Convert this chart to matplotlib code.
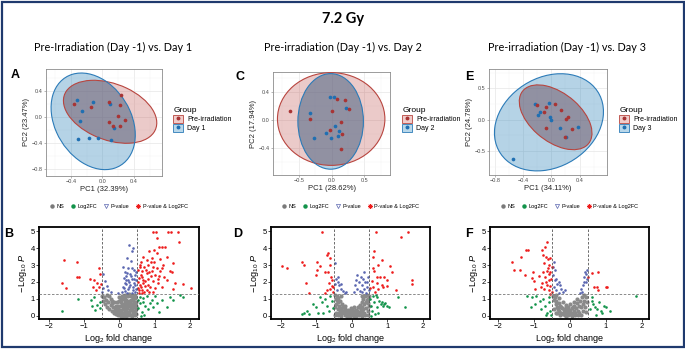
import numpy as np
import matplotlib
matplotlib.use('Agg')
import matplotlib.pyplot as plt
from matplotlib.patches import Ellipse, Rectangle, Patch
from matplotlib.lines import Line2D

plt.rcParams['font.family'] = ['Liberation Sans', 'DejaVu Sans']
plt.rcParams['mathtext.fontset'] = 'custom'
plt.rcParams['mathtext.rm'] = 'Liberation Sans'
plt.rcParams['mathtext.it'] = 'Liberation Sans:italic'

W, H = 685, 351

# ---- PCA scores (PC1, PC2) ----
a_pre = [(-0.358, 0.2), (-0.143, 0.149), (0.084, 0.231), (0.236, 0.338), (0.219, 0.179),
         (0.202, 0.01), (0.291, -0.046), (0.08, -0.077), (0.139, -0.133), (0.219, -0.138)]
a_day = [(-0.32, 0.256), (-0.114, 0.236), (-0.261, 0.097), (-0.291, -0.062), (0.101, 0.2),
         (0.147, -0.164), (-0.307, -0.344), (-0.168, -0.318), (-0.059, -0.318), (0.114, -0.349)]
c_pre = [(-0.633, 0.133), (-0.321, 0.009), (0.005, 0.123), (0.087, 0.294), (0.199, 0.284),
         (0.265, 0.156), (0.148, -0.024), (0.163, -0.199), (-0.02, -0.137), (0.138, -0.412)]
c_day = [(-0.327, 0.1), (-0.02, 0.322), (0.041, 0.318), (0.224, 0.166), (0.046, -0.081),
         (0.117, -0.156), (-0.077, -0.185), (0.092, -0.232), (-0.01, -0.261), (-0.27, -0.256)]
e_pre = [(-0.207, 0.239), (-0.075, 0.202), (-0.099, 0.117), (0.052, 0.255), (0.136, 0.154),
         (0.231, 0.043), (0.207, 0.005), (0.287, -0.154), (0.198, -0.271), (-0.075, -0.133)]
e_day = [(-0.24, 0.25), (-0.038, 0.271), (-0.165, 0.122), (-0.193, 0.069), (-0.024, 0.043),
         (-0.005, -0.011), (0.127, -0.128), (0.372, -0.122), (0.207, -0.282), (-0.546, -0.617)]

# 95% ellipses: (cx, cy, width, height, angle)
a_ell_pre = (0.097, 0.08, 1.28, 0.84, -30)
a_ell_day = (-0.118, -0.067, 1.54, 0.99, 110)
c_ell_pre = (-0.005, 0.014, 1.64, 1.31, 0)
c_ell_day = (-0.013, -0.02, 1.0, 1.35, 0)
e_ell_pre = (0.06, 0.04, 1.26, 0.74, -45)
e_ell_day = (-0.035, -0.04, 1.71, 1.37, 45)

pc_labels = [('PC1 (32.39%)', 'PC2 (23.47%)'), ('PC1 (28.62%)', 'PC2 (17.94%)'),
             ('PC1 (34.11%)', 'PC2 (24.78%)')]
day_names = ['Day 1', 'Day 2', 'Day 3']
subtitles = ['Pre-Irradiation (Day -1) vs. Day 1', 'Pre-irradiation (Day -1) vs. Day 2',
             'Pre-irradiation (Day -1) vs. Day 3']

# ---- volcano points (log2FC, -log10 P) ----
b_ns = [(-0.48, 1.2), (-0.45, 0.9), (-0.42, 1.1), (-0.40, 0.7), (-0.38, 0.95), (-0.35, 0.5), (-0.33, 0.8),
        (-0.30, 1.15), (-0.28, 0.4), (-0.25, 0.65), (-0.22, 0.9), (-0.20, 0.3), (-0.18, 0.55), (-0.15, 0.2),
        (-0.12, 0.45), (-0.10, 0.1), (-0.08, 0.3), (-0.05, 0.05), (-0.03, 0.6), (0.00, 0.15), (0.02, 0.35),
        (0.05, 0.02), (0.05, 0.8), (0.08, 0.2), (0.10, 0.5), (0.12, 1.0), (0.12, 0.08), (0.15, 0.3),
        (0.15, 1.25), (0.18, 0.7), (0.20, 0.12), (0.20, 0.95), (0.22, 0.45), (0.25, 1.15), (0.25, 0.25),
        (0.28, 0.6), (0.30, 0.85), (0.30, 0.05), (0.32, 1.2), (0.33, 0.35), (0.35, 0.7), (0.38, 1.0),
        (0.38, 0.15), (0.40, 0.5), (0.42, 1.25), (0.42, 0.8), (0.45, 0.3), (0.45, 1.05), (0.48, 0.6),
        (0.48, 0.1), (-0.02, 1.1), (0.00, 0.9), (0.08, 1.2), (-0.15, 0.8), (-0.25, 1.0), (0.10, 0.0),
        (0.20, 0.0), (-0.05, 0.4), (0.03, 0.6), (0.35, 0.0), (0.28, 1.28), (-0.35, 1.25), (0.18, 0.4),
        (0.22, 0.75), (0.40, 0.25), (0.46, 0.85), (0.05, 0.3), (0.14, 0.55), (0.26, 0.9), (0.34, 0.5),
        (-0.10, 0.6), (-0.20, 0.75), (0.44, 1.15), (0.36, 1.2), (0.24, 0.05), (0.16, 0.9), (0.06, 1.0),
        (-0.08, 0.85), (0.30, 0.35), (0.12, 0.7), (0.02, 0.05), (0.16, 0.12), (0.28, 0.15), (0.43, 0.05),
        (0.09, 0.38), (0.21, 0.58), (0.37, 0.42), (0.47, 0.4), (0.33, 0.95), (0.10, 1.1), (0.24, 1.25),
        (-0.07, 0.18), (0.17, 1.1), (0.40, 1.1), (0.29, 0.72), (0.43, 0.65), (0.07, 0.65), (-0.13, 0.3)]
b_fc = [(-1.62, 0.3), (-1.16, 0.98), (-0.81, 0.94), (-0.73, 1.14), (-0.78, 0.59), (-0.64, 0.65),
        (-0.56, 0.45), (-0.55, 0.85), (-0.69, 0.35), (0.58, 1.14), (0.68, 1.04), (0.77, 1.18), (0.91, 0.94),
        (1.05, 0.75), (1.2, 0.94), (1.34, 0.55), (0.58, 0.75), (0.72, 0.59), (0.82, 0.39), (0.63, 0.26),
        (0.7, 0.06), (0.54, 0.45), (0.96, 0.55), (1.13, 0.26), (1.52, 0.94), (1.71, 1.24), (1.79, 1.14),
        (1.43, 1.14), (0.54, 0.94), (0.87, 0.75), (0.62, 0.0), (1.0, 1.2), (0.66, 0.85)]
b_p = [(0.27, 4.19), (0.38, 4.0), (0.35, 3.8), (0.21, 3.41), (0.32, 3.21), (0.11, 2.91), (0.25, 2.81),
       (0.4, 2.72), (0.16, 2.56), (0.3, 2.48), (0.44, 2.42), (0.13, 2.22), (0.24, 2.13), (0.35, 2.17),
       (0.47, 2.09), (0.19, 1.89), (0.3, 1.83), (0.41, 1.93), (0.13, 1.63), (0.25, 1.57), (0.38, 1.69),
       (0.47, 1.57), (0.21, 1.38), (0.35, 1.38), (0.07, 1.44), (-0.03, 1.38), (0.46, 2.6), (0.2, 2.35),
       (0.43, 1.8), (0.16, 1.45), (0.28, 2.0), (0.1, 1.7), (0.45, 1.4), (-0.4, 2.03), (-0.36, 1.77),
       (-0.45, 1.63), (-0.31, 1.54), (-0.48, 1.44), (-0.25, 1.4), (-0.45, 2.5), (0.18, 2.1), (0.33, 2.35),
       (0.42, 2.2), (0.27, 1.7), (0.38, 1.5), (0.15, 1.95), (0.23, 2.55), (0.36, 2.8)]
b_pfc = [(-1.55, 3.31), (-1.19, 3.15), (-1.62, 1.97), (-1.51, 1.63), (-1.2, 2.28), (-1.15, 2.28),
         (-0.83, 2.2), (-0.72, 2.13), (-0.58, 2.81), (-0.54, 2.48), (-0.64, 1.97), (-0.75, 1.69),
         (-0.58, 1.69), (-0.53, 1.87), (-0.66, 1.54),
         (0.94, 4.96), (1.04, 4.96), (1.38, 4.96), (1.45, 4.96), (1.65, 4.96), (1.69, 4.35), (1.05, 4.59),
         (1.2, 4.09), (1.13, 4.09), (1.28, 4.09), (0.98, 3.9), (1.05, 3.7), (0.85, 3.8), (0.68, 3.5),
         (0.77, 3.31), (0.91, 3.41), (1.15, 3.35), (1.34, 3.5), (1.52, 3.11), (1.43, 2.62), (1.48, 2.56),
         (1.57, 1.97), (1.79, 1.89), (2.01, 1.63), (1.52, 1.57), (0.58, 3.01), (0.7, 2.91), (0.82, 3.01),
         (0.96, 2.91), (1.05, 2.81), (1.2, 2.81), (1.24, 3.01), (0.63, 2.62), (0.77, 2.52), (0.91, 2.62),
         (1.01, 2.42), (1.13, 2.36), (1.26, 2.28), (0.56, 2.22), (0.68, 2.13), (0.82, 2.17), (0.96, 2.03),
         (1.1, 1.93), (0.58, 1.83), (0.72, 1.77), (0.87, 1.69), (1.01, 1.63), (0.63, 1.54), (0.77, 1.5),
         (0.54, 1.63), (0.94, 1.42), (0.56, 1.38), (1.2, 1.73), (1.36, 2.13), (0.6, 2.4), (0.52, 2.0),
         (0.66, 1.95), (0.53, 2.7), (0.62, 3.2), (0.75, 2.7), (0.88, 2.35), (0.55, 1.5), (0.7, 1.4),
         (0.6, 1.7), (0.65, 2.3), (0.72, 2.05), (0.8, 1.85), (0.85, 2.6), (0.9, 3.15), (0.57, 2.9),
         (0.64, 1.35), (0.83, 1.4), (1.08, 2.15), (1.15, 2.65), (0.98, 3.2)]

d_ns = [(-0.48, 1.25), (-0.45, 1.0), (-0.42, 1.2), (-0.40, 0.8), (-0.38, 1.05), (-0.35, 0.6), (-0.32, 0.9),
        (-0.30, 0.45), (-0.28, 0.7), (-0.25, 0.3), (-0.22, 0.55), (-0.20, 0.2), (-0.18, 0.4), (-0.15, 0.1),
        (-0.12, 0.3), (-0.10, 0.05), (-0.08, 0.2), (-0.05, 0.02), (-0.03, 0.15), (0.0, 0.05), (0.02, 0.25),
        (0.05, 0.0), (0.07, 0.15), (0.10, 0.08), (0.12, 0.35), (0.15, 0.15), (0.18, 0.5), (0.20, 0.25),
        (0.22, 0.65), (0.25, 0.4), (0.28, 0.8), (0.30, 0.5), (0.32, 1.0), (0.35, 0.7), (0.38, 1.15),
        (0.40, 0.85), (0.42, 1.25), (0.45, 1.0), (0.48, 1.2), (0.48, 0.6), (-0.48, 0.5), (-0.45, 0.2),
        (0.45, 0.3), (-0.35, 0.2), (0.35, 0.2), (-0.2, 0.6), (0.2, 0.55), (-0.1, 0.35), (0.1, 0.3),
        (0.0, 0.4), (-0.4, 0.4), (0.4, 0.45), (-0.3, 1.15), (0.3, 1.2), (-0.05, 0.1), (0.05, 0.12),
        (-0.15, 0.25), (0.15, 0.3), (-0.25, 0.5), (0.25, 0.15), (0.38, 0.05), (-0.38, 0.05), (0.12, 0.02),
        (-0.12, 0.02), (0.45, 0.75), (-0.45, 0.7), (0.28, 0.3), (-0.28, 0.15), (0.05, 0.5), (-0.02, 0.45),
        (-0.43, 0.95), (0.43, 0.95), (-0.33, 0.35), (0.33, 0.4), (-0.2, 0.05), (0.2, 0.05), (-0.3, 0.02),
        (0.3, 0.02), (-0.47, 0.05), (0.47, 0.05), (0.08, 0.28), (-0.08, 0.3)]
d_fc = [(-1.4, 0.1), (-1.35, 0.2), (-1.25, 0.3), (-1.1, 0.7), (-1.0, 0.5), (-0.95, 0.2), (-0.85, 0.8),
        (-0.8, 0.2), (-0.75, 1.0), (-0.7, 0.6), (-0.65, 0.3), (-0.6, 1.2), (-0.55, 0.9), (-0.52, 0.45),
        (-1.2, 0.1), (-0.9, 1.1), (0.52, 1.0), (0.55, 0.6), (0.58, 0.3), (0.6, 1.2), (0.62, 0.8),
        (0.65, 0.1), (0.7, 1.1), (0.72, 0.5), (0.78, 0.9), (0.82, 0.7), (0.85, 0.8), (0.88, 0.6),
        (0.92, 0.7), (0.95, 0.75), (1.0, 0.6), (1.05, 0.5), (1.3, 1.1), (1.5, 0.55), (0.75, 0.2),
        (0.55, 0.0), (0.68, 1.25)]
d_p = [(-0.45, 2.2), (-0.4, 2.0), (-0.35, 1.8), (-0.3, 1.6), (-0.25, 1.45), (-0.42, 1.5), (-0.48, 1.9),
       (-0.38, 2.3), (-0.2, 1.35), (-0.47, 3.1), (-0.3, 1.9), (-0.15, 1.4), (0.12, 2.1), (0.16, 2.4),
       (0.2, 2.0), (0.25, 2.3), (0.28, 1.8), (0.32, 2.2), (0.35, 1.6), (0.38, 2.0), (0.42, 1.7),
       (0.45, 2.3), (0.48, 1.5), (0.15, 1.6), (0.22, 1.45), (0.3, 1.4), (0.4, 1.35), (0.1, 1.8),
       (0.05, 1.4), (0.35, 2.6), (0.44, 2.0)]
d_pfc = [(-0.85, 4.96), (-1.97, 2.97), (-1.83, 2.81), (-1.41, 3.15), (-1.36, 3.01), (-1.29, 1.93),
         (-1.21, 1.34), (-0.97, 3.15), (-0.99, 2.68), (-0.91, 2.95), (-0.7, 3.6), (-0.66, 3.7),
         (-0.61, 3.41), (-0.75, 2.56), (-0.66, 2.56), (-1.0, 2.42), (-0.61, 3.01), (-0.56, 2.13),
         (-0.63, 1.97), (-0.56, 1.77), (-0.61, 1.57), (-0.7, 1.54), (-0.75, 1.38), (-0.54, 1.44),
         (-0.52, 1.69), (-0.58, 2.32),
         (0.68, 4.96), (1.6, 4.96), (1.38, 4.65), (0.63, 3.84), (0.59, 3.5), (0.85, 3.31), (0.75, 3.01),
         (1.08, 2.95), (0.61, 2.81), (1.13, 2.56), (0.63, 2.62), (0.7, 2.28), (0.8, 2.28), (0.91, 2.28),
         (0.99, 2.13), (1.69, 2.09), (1.69, 1.89), (0.56, 2.03), (0.7, 1.93), (0.85, 1.83), (0.61, 1.73),
         (0.89, 1.69), (1.25, 1.54), (0.52, 1.63), (0.75, 1.57), (0.66, 1.44), (0.99, 1.77)]

f_ns = [(-0.48, 1.2), (-0.45, 0.95), (-0.42, 1.1), (-0.40, 0.7), (-0.38, 0.9), (-0.35, 0.5), (-0.32, 0.75),
        (-0.30, 0.3), (-0.28, 0.6), (-0.25, 0.2), (-0.22, 0.45), (-0.20, 0.1), (-0.18, 0.35), (-0.15, 0.05),
        (-0.12, 0.25), (-0.10, 0.0), (-0.08, 0.15), (-0.05, 0.05), (-0.02, 0.3), (0.0, 0.1), (0.03, 0.2),
        (0.05, 0.45), (0.08, 0.1), (0.10, 0.3), (0.12, 0.6), (0.15, 0.2), (0.18, 0.45), (0.20, 0.75),
        (0.22, 0.3), (0.25, 0.6), (0.28, 0.9), (0.30, 0.5), (0.33, 1.1), (0.35, 0.7), (0.38, 1.25),
        (0.40, 0.9), (0.42, 0.5), (0.45, 1.1), (0.48, 0.8), (-0.45, 0.4), (-0.35, 0.15), (-0.25, 0.55),
        (-0.15, 0.4), (-0.05, 0.55), (0.05, 0.0), (0.15, 0.05), (0.25, 0.15), (0.35, 0.3), (-0.4, 0.2),
        (0.0, 0.7), (-0.3, 1.05), (-0.2, 0.8), (-0.1, 0.5), (0.1, 0.85), (0.2, 1.0), (-0.12, 0.65),
        (0.08, 0.55), (-0.28, 0.05), (0.3, 0.05), (-0.38, 1.25), (0.44, 0.25), (-0.08, 0.35),
        (-0.18, 0.15), (-0.02, 0.1), (0.12, 0.15), (-0.33, 0.4), (0.22, 0.05), (0.0, 0.35)]
f_fc = [(-1.2, 1.2), (-1.05, 1.1), (-0.98, 0.7), (-0.95, 1.2), (-0.85, 0.9), (-0.8, 0.4), (-0.75, 1.0),
        (-0.7, 0.6), (-0.65, 0.2), (-0.6, 0.8), (-0.58, 1.1), (-0.55, 0.3), (-0.52, 0.05), (-1.1, 0.55),
        (-0.68, 0.05), (0.6, 1.1), (0.62, 0.9), (0.65, 0.7), (0.7, 0.5), (0.75, 0.4), (0.8, 0.8),
        (0.85, 0.3), (0.9, 0.2), (0.95, 0.6), (1.0, 0.5), (1.1, 0.3), (1.85, 1.15), (0.55, 0.4), (0.72, 0.05)]
f_p = [(-0.45, 3.2), (-0.42, 2.7), (-0.48, 2.4), (-0.4, 2.2), (-0.35, 1.9), (-0.3, 2.0), (-0.45, 1.7),
       (-0.25, 1.6), (-0.38, 1.5), (-0.2, 1.4), (-0.32, 1.35), (-0.48, 2.9), (-0.28, 1.8), (-0.15, 1.5),
       (-0.42, 2.1), (0.35, 1.8), (0.38, 2.0), (0.4, 2.3), (0.42, 2.6), (0.45, 2.5), (0.48, 2.7),
       (0.3, 1.6), (0.33, 1.4), (0.45, 2.0), (0.28, 1.35), (0.47, 2.2)]
f_pfc = [(-1.63, 3.17), (-1.55, 2.68), (-1.38, 3.46), (-1.4, 2.68), (-1.26, 2.4), (-1.24, 3.9), (-1.18, 3.9),
         (-1.04, 2.56), (-1.05, 2.22), (-1.01, 2.03), (-0.98, 1.57), (-0.87, 2.36), (-0.77, 3.9), (-0.74, 3.6),
         (-0.7, 4.09), (-0.65, 4.35), (-0.68, 3.46), (-0.62, 3.35), (-0.56, 3.41), (-0.72, 3.11),
         (-0.6, 3.01), (-0.51, 2.91), (-0.74, 2.56), (-0.65, 2.62), (-0.59, 2.48), (-0.7, 2.28), (-0.6, 2.13),
         (-0.53, 2.17), (-0.77, 1.97), (-0.65, 1.83), (-0.56, 1.77), (-0.72, 1.57), (-0.6, 1.54),
         (-0.51, 1.44), (-0.81, 1.69), (-0.55, 1.3), (-0.62, 2.8), (-0.55, 2.6), (-0.68, 2.0),
         (0.6, 2.52), (0.79, 2.56), (0.51, 2.28), (0.68, 1.69), (0.77, 1.5), (0.99, 1.69), (1.02, 1.69),
         (0.74, 1.73)]

RED, BLUE = '#A83434', '#1F6FB2'
RED_EDGE, BLUE_EDGE = '#B8453F', '#2C7BB8'

fig = plt.figure(figsize=(W / 100, H / 100), dpi=100)


def px_axes(l, t, r, b):
    return fig.add_axes([l / W, 1 - b / H, (r - l) / W, (b - t) / H])


def ellipse(ax, e, fc, ec, alpha):
    cx, cy, w, h, ang = e
    p = Ellipse((cx, cy), w, h, angle=ang, facecolor=fc, alpha=alpha, edgecolor='none', zorder=2)
    ax.add_patch(p)
    ax.add_patch(Ellipse((cx, cy), w, h, angle=ang, facecolor='none', edgecolor=ec, lw=0.8, zorder=3))
    return p


def pca_panel(ax, pre, day, ell_pre, ell_day, xlim, ylim, xt, yt, xmin, ymin, labels, day_name, leg_xy):
    ax.set_xlim(xlim)
    ax.set_ylim(ylim)
    ax.set_xticks(xt)
    ax.set_yticks(yt)
    ax.set_xticks(xmin, minor=True)
    ax.set_yticks(ymin, minor=True)
    ax.grid(which='major', color='#E6E6E6', lw=0.5, zorder=0)
    ax.grid(which='minor', color='#F2F2F2', lw=0.3, zorder=0)
    ax.set_axisbelow(True)
    for s in ax.spines.values():
        s.set_color('#8C8C8C')
        s.set_linewidth(0.6)
    ax.tick_params(which='major', length=1.5, width=0.4, color='#7F7F7F', labelsize=4, labelcolor='#4D4D4D', pad=1)
    ax.tick_params(which='minor', length=0)
    ax.set_xlabel(labels[0], fontsize=5.5, labelpad=1, color='#222222')
    ax.set_ylabel(labels[1], fontsize=5.5, labelpad=1, color='#222222')

    ellipse(ax, ell_pre, '#C0504D', RED_EDGE, 0.3)
    blue = ellipse(ax, ell_day, '#2B83BA', BLUE_EDGE, 0.35)
    cx, cy, w, h, ang = ell_pre
    ov = Ellipse((cx, cy), w, h, angle=ang, facecolor='#5E4A58', alpha=0.3, edgecolor='none', zorder=2)
    ax.add_patch(ov)
    ov.set_clip_path(blue)

    pre = np.array(pre)
    day = np.array(day)
    ax.scatter(day[:, 0], day[:, 1], s=7, color=BLUE, zorder=4, lw=0)
    ax.scatter(pre[:, 0], pre[:, 1], s=7, color=RED, zorder=4, lw=0)

    handles = [(Patch(facecolor='#F0CCCA', edgecolor=RED_EDGE, lw=0.6),
                Line2D([], [], marker='o', ms=1.8, color=RED, ls='')),
               (Patch(facecolor='#B8D7EA', edgecolor=BLUE_EDGE, lw=0.6),
                Line2D([], [], marker='o', ms=1.8, color=BLUE, ls=''))]
    ax.legend(handles, ['Pre-irradiation', day_name], title='Group', loc='upper left',
              bbox_to_anchor=(leg_xy[0] / W, 1 - leg_xy[1] / H), bbox_transform=fig.transFigure,
              frameon=False, fontsize=5, title_fontsize=6, handlelength=1.4, handleheight=1.4,
              handletextpad=0.6, labelspacing=0.1, borderpad=0, alignment='left')


def volcano_panel(ax, ns, fc, p, pfc, xlim):
    ax.set_xlim(xlim)
    ax.set_ylim(-0.18, 5.24)
    ax.set_xticks([-2, -1, 0, 1, 2])
    ax.set_yticks([0, 1, 2, 3, 4, 5])
    for s in ax.spines.values():
        s.set_linewidth(1.3)
        s.set_color('black')
    ax.tick_params(length=2, width=0.5, labelsize=5.5, pad=1)
    for pts, col, sz in [(ns, '#8A8A8A', 9), (fc, '#12934A', 3.5), (p, '#5A66B0', 3.5), (pfc, '#EE1C1C', 3.5)]:
        a = np.array(pts)
        ax.scatter(a[:, 0], a[:, 1], s=sz, color=col, lw=0, zorder=2)
    ax.axvline(-0.5, color='#555555', lw=0.6, ls=(0, (3, 2)), zorder=3)
    ax.axvline(0.5, color='#555555', lw=0.6, ls=(0, (3, 2)), zorder=3)
    ax.axhline(1.30103, color='#777777', lw=0.6, ls=(0, (3, 2)), zorder=3)
    ax.set_xlabel(r'$\mathrm{Log}_{2}$ fold change', fontsize=6.5, labelpad=1)
    ax.set_ylabel(r'$-\,\mathrm{Log}_{10}\ \mathit{P}$', fontsize=6.5, labelpad=1)
    handles = [Line2D([], [], marker='o', ms=2.2, color='#7A7A7A', ls=''),
               Line2D([], [], marker='o', ms=2.2, color='#12934A', ls=''),
               Line2D([], [], marker='v', ms=3, mfc='none', mec='#5A66B0', mew=0.5, ls=''),
               Line2D([], [], marker=(8, 2, 0), ms=3.5, color='#EE1C1C', mew=0.5, ls='')]
    ax.legend(handles, ['NS', 'Log2FC', 'P-value', 'P-value & Log2FC'], loc='center',
              bbox_to_anchor=(0.5, 1.22), ncol=4, frameon=False, fontsize=4, handlelength=0.8,
              handletextpad=0.4, columnspacing=1.2, borderpad=0)


# frame around the figure
fig.patches.append(Rectangle((1.5 / W, 4 / H), (W - 3) / W, (H - 6) / H, transform=fig.transFigure,
                             fill=False, edgecolor='#1F3A6E', lw=1.6))

fig.text(343 / W, 1 - 19 / H, '7.2 Gy', family='Lato', fontweight='bold', fontsize=10.5, ha='center', va='center')
for cx, t in zip([113, 343, 567], subtitles):
    fig.text(cx / W, 1 - 47 / H, t, family='Lato', fontsize=7.8, ha='center', va='center')

axA = px_axes(46, 69, 162, 176)
pca_panel(axA, a_pre, a_day, a_ell_pre, a_ell_day, (-0.717, 0.756), (-0.908, 0.738),
          [-0.4, 0, 0.4], [-0.8, -0.4, 0, 0.4], [-0.6, -0.2, 0.2, 0.6], [-0.6, -0.2, 0.2, 0.6],
          pc_labels[0], day_names[0], (170, 104))
axC = px_axes(273, 72, 390, 175)
pca_panel(axC, c_pre, c_day, c_ell_pre, c_ell_day, (-0.893, 0.893), (-0.777, 0.678),
          [-0.5, 0, 0.5], [-0.4, 0, 0.4], [-0.75, -0.25, 0.25, 0.75], [-0.6, -0.2, 0.2, 0.6],
          pc_labels[1], day_names[1], (399, 104))
axE = px_axes(489, 69, 607, 175)
pca_panel(axE, e_pre, e_day, e_ell_pre, e_ell_day, (-0.887, 0.79), (-0.88, 0.81),
          [-0.8, -0.4, 0, 0.4], [-0.5, 0, 0.5], [-0.6, -0.2, 0.2, 0.6], [-0.75, -0.25, 0.25, 0.75],
          pc_labels[2], day_names[2], (616, 104))

axB = px_axes(39, 227, 199, 319)
volcano_panel(axB, b_ns, b_fc, b_p, b_pfc, (-2.27, 2.25))
axD = px_axes(271, 227, 430, 319)
volcano_panel(axD, d_ns, d_fc, d_p, d_pfc, (-2.28, 2.21))
axF = px_axes(490, 227, 649, 319)
volcano_panel(axF, f_ns, f_fc, f_p, f_pfc, (-2.23, 2.2))

for lab, x, y in [('A', 15, 75), ('B', 9, 234), ('C', 240, 77), ('D', 238, 234), ('E', 469, 77), ('F', 469, 234)]:
    fig.text(x / W, 1 - y / H, lab, fontsize=9, fontweight='bold', ha='center', va='center')

fig.savefig('out.png', dpi=100)
